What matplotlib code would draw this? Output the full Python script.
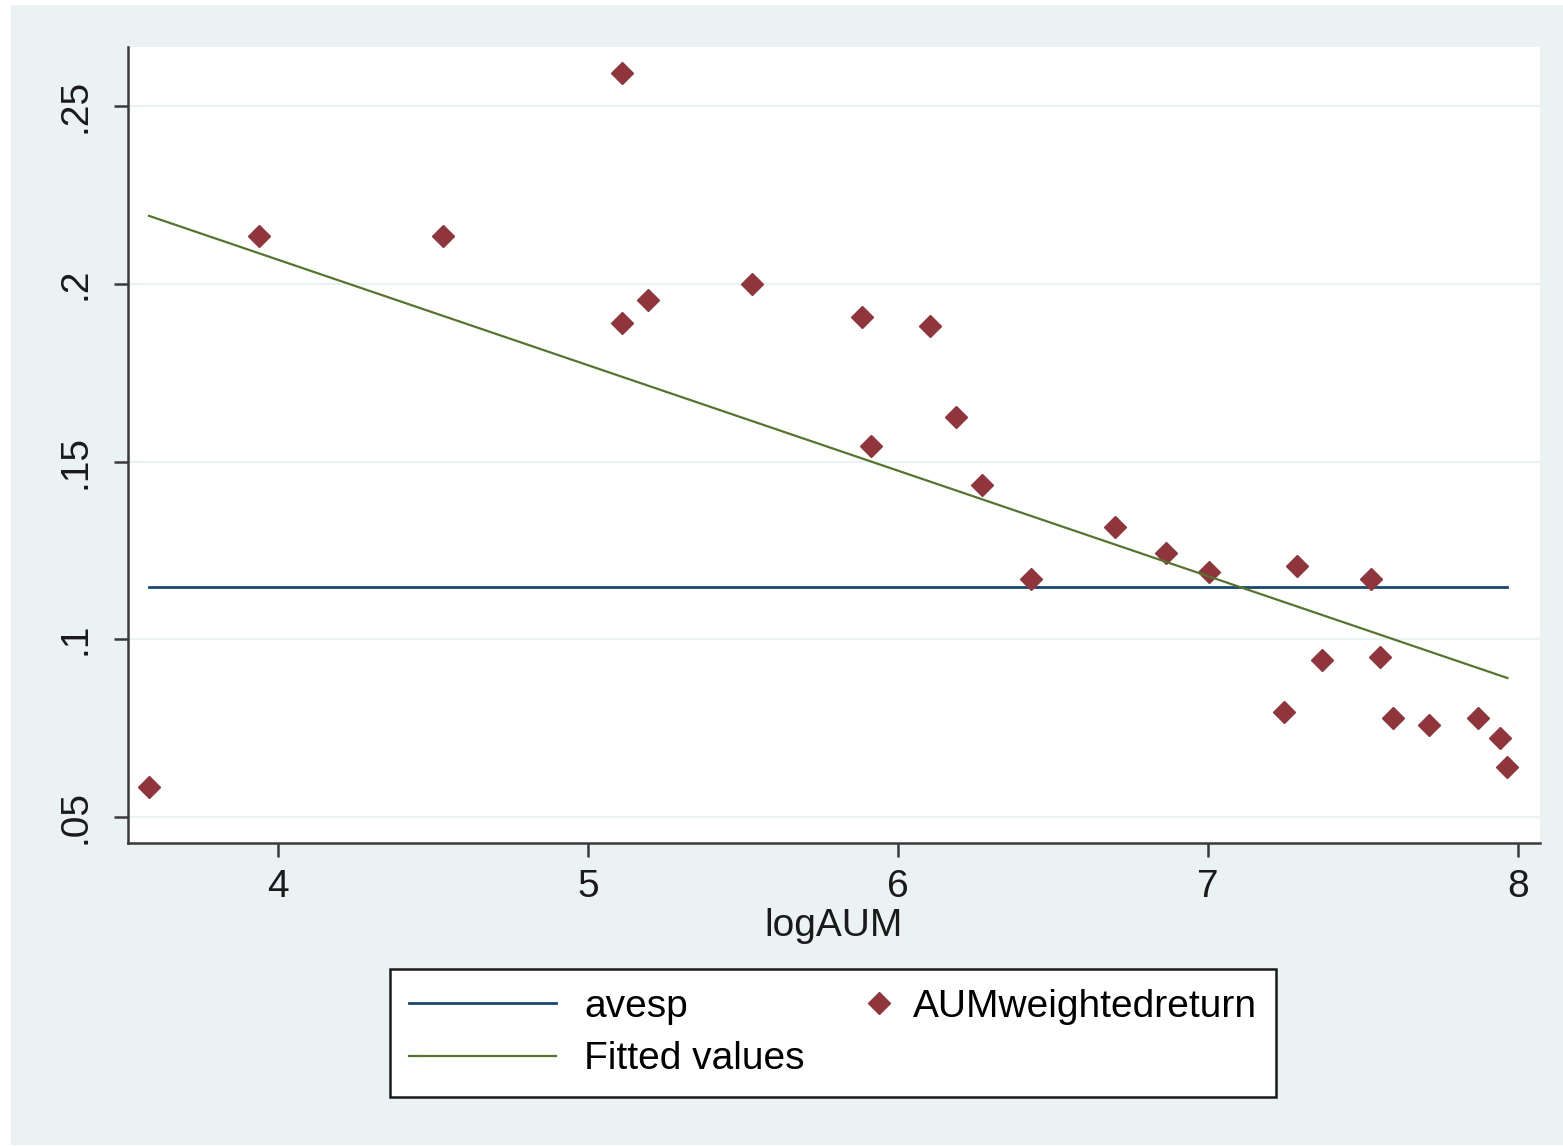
# Stata-style scatter: AUM weighted return vs logAUM
import matplotlib.pyplot as plt
from matplotlib.legend_handler import HandlerLine2D
from matplotlib.patches import Rectangle

plt.rcParams['font.family'] = ['Liberation Sans', 'DejaVu Sans']

log_aum = [3.584, 3.939, 4.532, 5.110, 5.110, 5.194, 5.529, 5.884, 5.913,
           6.103, 6.187, 6.271, 6.429, 6.700, 6.865, 7.003, 7.245, 7.287,
           7.368, 7.526, 7.555, 7.597, 7.713, 7.871, 7.942, 7.965]
aum_weighted_return = [0.0584, 0.2134, 0.2134, 0.2593, 0.1890, 0.1954, 0.1999,
                       0.1906, 0.1544, 0.1881, 0.1625, 0.1434, 0.1169, 0.1316,
                       0.1243, 0.1189, 0.0795, 0.1206, 0.0942, 0.1169, 0.0950,
                       0.0778, 0.0759, 0.0778, 0.0722, 0.0641]
avesp_x = [3.584, 7.965]
avesp_y = [0.1147, 0.1147]
fitted_x = [3.584, 7.965]
fitted_y = [0.2191, 0.0891]

xticks = [4, 5, 6, 7, 8]
yticks = [0.05, 0.10, 0.15, 0.20, 0.25]
ytick_labels = [".05", ".1", ".15", ".2", ".25"]

bg = "#eaf2f3"
navy = "#1a476f"
maroon = "#90353b"
green = "#55752f"
fs = 28


class RightMarker(HandlerLine2D):
    # put the legend marker near the right end of the handle, like Stata
    def create_artists(self, legend, orig_handle, xdescent, ydescent,
                       width, height, fontsize, trans):
        arts = super().create_artists(legend, orig_handle, xdescent, ydescent,
                                      width, height, fontsize, trans)
        for a in arts:
            a.set_xdata([width - xdescent - 0.15 * fontsize])
        return arts


fig = plt.figure(figsize=(15.63, 11.46), dpi=100)
fig.patch.set_facecolor("white")
fig.patches.append(Rectangle((11 / 1563, 1 / 1146), 1 - 11 / 1563, 1 - 6 / 1146,
                             transform=fig.transFigure, facecolor=bg,
                             edgecolor="none", zorder=-10))

ax = fig.add_axes([128 / 1563, 1 - 843 / 1146, (1540 - 128) / 1563, (843 - 47) / 1146])
ax.set_zorder(1)
ax.set_facecolor("white")

for yv in yticks:
    ax.axhline(yv, color=bg, lw=1.6, zorder=1)

l1, = ax.plot(avesp_x, avesp_y, color=navy, lw=2.0, zorder=2, label="avesp")
sc, = ax.plot(log_aum, aum_weighted_return, ls="none", marker="D", ms=11,
              color=maroon, zorder=3, label="AUMweightedreturn")
l2, = ax.plot(fitted_x, fitted_y, color=green, lw=1.6, zorder=4, label="Fitted values")

ax.set_xlim(3.516, 8.07)
ax.set_ylim(0.0427, 0.2666)
ax.set_xticks(xticks)
ax.set_yticks(yticks)
ax.set_yticklabels(ytick_labels, rotation=90, va="center")

for s in ["top", "right"]:
    ax.spines[s].set_visible(False)
for s in ["left", "bottom"]:
    ax.spines[s].set_color("#3a3a3a")
    ax.spines[s].set_linewidth(1.8)

ax.tick_params(axis="both", direction="out", length=10, width=1.8,
               color="#3a3a3a", labelsize=fs, labelcolor="#1a1a1a")
ax.tick_params(axis="x", pad=9)
ax.tick_params(axis="y", pad=15)
ax.set_xlabel("logAUM", fontsize=fs, color="#1a1a1a", labelpad=2)

leg = fig.legend([l1, l2, sc], ["avesp", "Fitted values", "AUMweightedreturn"],
                 ncol=2, loc="center", bbox_to_anchor=(833 / 1563, 1 - 1033 / 1146),
                 fontsize=fs, handlelength=3.78, handletextpad=0.72,
                 columnspacing=-1.72, labelspacing=0.42, borderpad=0.5,
                 fancybox=False, framealpha=1, edgecolor="#1a1a1a",
                 handler_map={sc: RightMarker(numpoints=1)})
leg.get_frame().set_linewidth(1.8)

fig.savefig("out.png", dpi=100, facecolor=fig.get_facecolor())
